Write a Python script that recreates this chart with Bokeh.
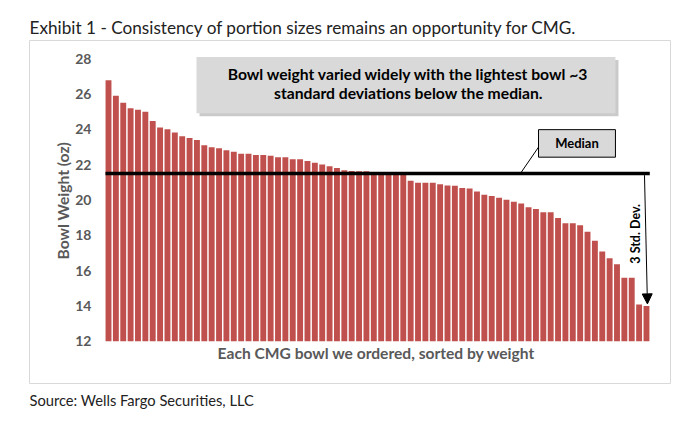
from bokeh.plotting import figure
from bokeh.models import Title, Arrow, NormalHead
from bokeh.core.properties import value
from bokeh.embed import file_html
from bokeh.resources import INLINE
import numpy as np

# ---- data ----
weights = [26.78, 25.90, 25.51, 25.19, 25.11, 25.00, 24.47, 24.10, 24.00, 23.82,
           23.61, 23.51, 23.40, 23.09, 22.98, 22.92, 22.82, 22.73, 22.61, 22.61,
           22.54, 22.54, 22.50, 22.41, 22.41, 22.30, 22.30, 22.20, 22.11, 22.01,
           21.91, 21.81, 21.68, 21.64, 21.62, 21.62,
           21.50, 21.50, 21.50, 21.50, 21.50,
           21.08, 20.97, 20.97, 20.97, 20.88, 20.82, 20.80, 20.68, 20.65, 20.48,
           20.29, 20.22, 20.12, 20.01, 19.90, 19.79, 19.58,
           19.49, 19.30, 19.30, 18.98, 18.68, 18.68, 18.57, 18.19, 17.68, 17.08,
           16.69, 16.35, 15.59, 15.59, 14.08, 13.99]
bowls = list(range(len(weights)))
y_ticks = [12, 14, 16, 18, 20, 22, 24, 26, 28]
y_tick_labels = [str(t) for t in y_ticks]

title_text = "Exhibit 1 - Consistency of portion sizes remains an opportunity for CMG."
source_text = "Source: Wells Fargo Securities, LLC"
y_label = "Bowl Weight (oz)"
x_label = "Each CMG bowl we ordered, sorted by weight"
callout_lines = ["Bowl weight varied widely with the lightest bowl ~3",
                 "standard deviations below the median."]

median = float(np.median(weights))
lowest = min(weights)
n = len(weights)

BAR = "#C0504D"
GREY_TXT = "#595959"
FONT = "Lato"

p = figure(width=672, height=413, output_backend="svg", toolbar_location=None,
           x_range=(-10.72, 76.26), y_range=(9.60, 29.03),
           x_axis_type=None, y_axis_type=None,
           min_border_left=29, min_border_right=2, min_border_top=40, min_border_bottom=27)
p.grid.visible = False
p.outline_line_color = "#D9D9D9"
p.outline_line_width = 1
p.background_fill_color = "white"
p.border_fill_color = "white"

p.title.text = title_text
p.title.text_font = FONT
p.title.text_font_size = "17.2px"
p.title.text_font_style = "normal"
p.title.text_color = "#222222"
p.title.align = "left"
p.title.standoff = 6

src = Title(text=source_text, align="left", text_font=FONT, text_font_size="14.7px",
            text_font_style="normal", text_color="#222222")
p.add_layout(src, "below")

# bars
p.vbar(x=bowls, top=weights, bottom=12, width=0.8, fill_color=BAR, line_color=None)

# tick labels of value axis
p.text(x=[-2.31] * len(y_ticks), y=y_ticks, text=y_tick_labels,
       text_font=value(FONT), text_font_size="14px", text_font_style="bold",
       text_color=GREY_TXT, text_align="right", text_baseline="middle")
# axis titles
p.text(x=[-6.24], y=[19.95], text=[y_label], angle=np.pi / 2,
       text_font=value(FONT), text_font_size="15.6px", text_font_style="bold",
       text_color=GREY_TXT, text_align="center", text_baseline="middle")
p.text(x=[36.36], y=[11.34], text=[x_label],
       text_font=value(FONT), text_font_size="15.6px", text_font_style="bold",
       text_color=GREY_TXT, text_align="center", text_baseline="middle")

# callout box with shadow
p.quad(left=[12.35], right=[69.2], top=[27.92], bottom=[24.74],
       fill_color="#A6A6A6", fill_alpha=0.6, line_color=None)
p.quad(left=[11.94], right=[68.79], top=[28.09], bottom=[24.91],
       fill_color="#D9D9D9", line_color=None)
p.text(x=[40.7, 40.7], y=[27.16, 26.04], text=callout_lines,
       text_font=value(FONT), text_font_size="15.7px", text_font_style="bold",
       text_color="black", text_align="center", text_baseline="middle")

# median line
p.line(x=[-0.41, n - 1 + 0.45], y=[median, median], line_color="black", line_width=3.5)

# median label
p.segment(x0=[55.9], y0=[median], x1=[58.6], y1=[23.14], line_color="black", line_width=1)
p.quad(left=[58.35], right=[68.79], top=[23.98], bottom=[22.42],
       fill_color="#D9D9D9", line_color="black", line_width=1)
p.text(x=[63.57], y=[23.2], text=["Median"],
       text_font=value(FONT), text_font_size="13px", text_font_style="bold",
       text_color="black", text_align="center", text_baseline="middle")

# 3 std dev arrow
p.add_layout(Arrow(end=NormalHead(size=10, fill_color="black", line_color="black"),
                   x_start=72.73, y_start=median - 0.1, x_end=73.13, y_end=lowest + 0.12,
                   line_color="black", line_width=1))
p.text(x=[71.5], y=[18.08], text=["3 Std. Dev."], angle=np.pi / 2,
       text_font=value(FONT), text_font_size="12.5px", text_font_style="bold",
       text_color="black", text_align="center", text_baseline="middle")

open("out.html", "w").write(file_html(p, INLINE))
